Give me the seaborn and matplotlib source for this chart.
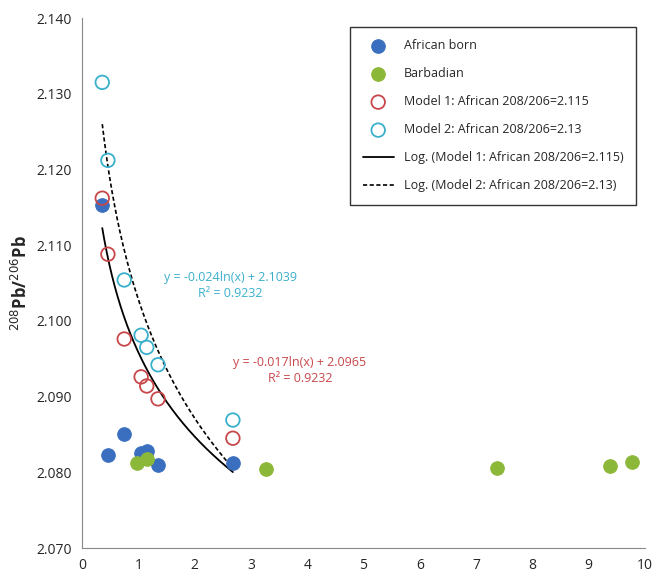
import numpy as np
import pandas as pd
import matplotlib
matplotlib.use("Agg")
import matplotlib.pyplot as plt
import seaborn as sns

# Data
african_x = [0.36, 0.46, 0.75, 1.05, 1.15, 1.35, 2.68]
african_y = [2.1153, 2.0823, 2.0851, 2.0826, 2.0828, 2.0809, 2.0812]
barb_x = [0.97, 1.15, 3.27, 7.37, 9.37, 9.77]
barb_y = [2.0812, 2.0818, 2.0804, 2.0806, 2.0808, 2.0814]
model_x = [0.36, 0.46, 0.75, 1.05, 1.15, 1.35, 2.68]
model1_y = [2.1162, 2.1088, 2.0976, 2.0926, 2.0914, 2.0897, 2.0845]
model2_y = [2.1315, 2.1212, 2.1054, 2.0981, 2.0965, 2.0942, 2.0869]

blue = "#3a6fbf"
green = "#8cb83a"
red = "#c8474a"
cyan = "#3ab0cc"

sns.set_style("white")
plt.rcParams["font.family"] = ["Open Sans", "DejaVu Sans"]

fig = plt.figure(figsize=(6.55, 5.83), dpi=100)
ax = fig.add_axes([82 / 655, 35 / 583, 563 / 655, 530 / 583])

sns.scatterplot(x=african_x, y=african_y, ax=ax, color=blue, s=95, edgecolor=blue,
                label="African born", zorder=3)
sns.scatterplot(x=barb_x, y=barb_y, ax=ax, color=green, s=95, edgecolor=green,
                label="Barbadian", zorder=3)
ax.scatter(model_x, model1_y, s=95, facecolors="none", edgecolors=red, linewidths=1.3,
           label="Model 1: African 208/206=2.115", zorder=3)
ax.scatter(model_x, model2_y, s=95, facecolors="none", edgecolors=cyan, linewidths=1.3,
           label="Model 2: African 208/206=2.13", zorder=3)

# log trend lines
xs = np.linspace(min(model_x), max(model_x), 200)
c1 = np.polyfit(np.log(model_x), model1_y, 1)
c2 = np.polyfit(np.log(model_x), model2_y, 1)
sns.lineplot(x=xs, y=c1[0] * np.log(xs) + c1[1], ax=ax, color="black", lw=1.3,
             label="Log. (Model 1: African 208/206=2.115)")
sns.lineplot(x=xs, y=c2[0] * np.log(xs) + c2[1], ax=ax, color="black", lw=1.2,
             linestyle=(0, (2.5, 1.5)), label="Log. (Model 2: African 208/206=2.13)")

ax.text(2.63, 2.1047, "y = -0.024ln(x) + 2.1039\nR² = 0.9232", color=cyan, fontsize=9,
        ha="center", va="center", linespacing=1.3)
ax.text(3.87, 2.0935, "y = -0.017ln(x) + 2.0965\nR² = 0.9232", color=red, fontsize=9,
        ha="center", va="center", linespacing=1.3)

ax.set_xlim(0, 10)
ax.set_ylim(2.070, 2.140)
ax.set_xticks(range(0, 11))
ax.set_yticks(np.arange(2.070, 2.1401, 0.010))
ax.yaxis.set_major_formatter(matplotlib.ticker.FormatStrFormatter("%.3f"))
ax.set_ylabel("$^{208}$Pb/$^{206}$Pb", fontsize=12, fontweight="bold")
ax.tick_params(axis="both", direction="out", length=4, width=1, color="#888888", labelsize=10)
for side in ["top", "right"]:
    ax.spines[side].set_visible(False)
for side in ["left", "bottom"]:
    ax.spines[side].set_color("#888888")

leg = ax.legend(loc="upper right", bbox_to_anchor=(0.995, 0.995), fontsize=9, frameon=True,
                fancybox=False, edgecolor="black", borderpad=1.0, labelspacing=1.2,
                handlelength=2.5)
leg.get_frame().set_linewidth(1.0)

fig.savefig("out.png", dpi=100)
